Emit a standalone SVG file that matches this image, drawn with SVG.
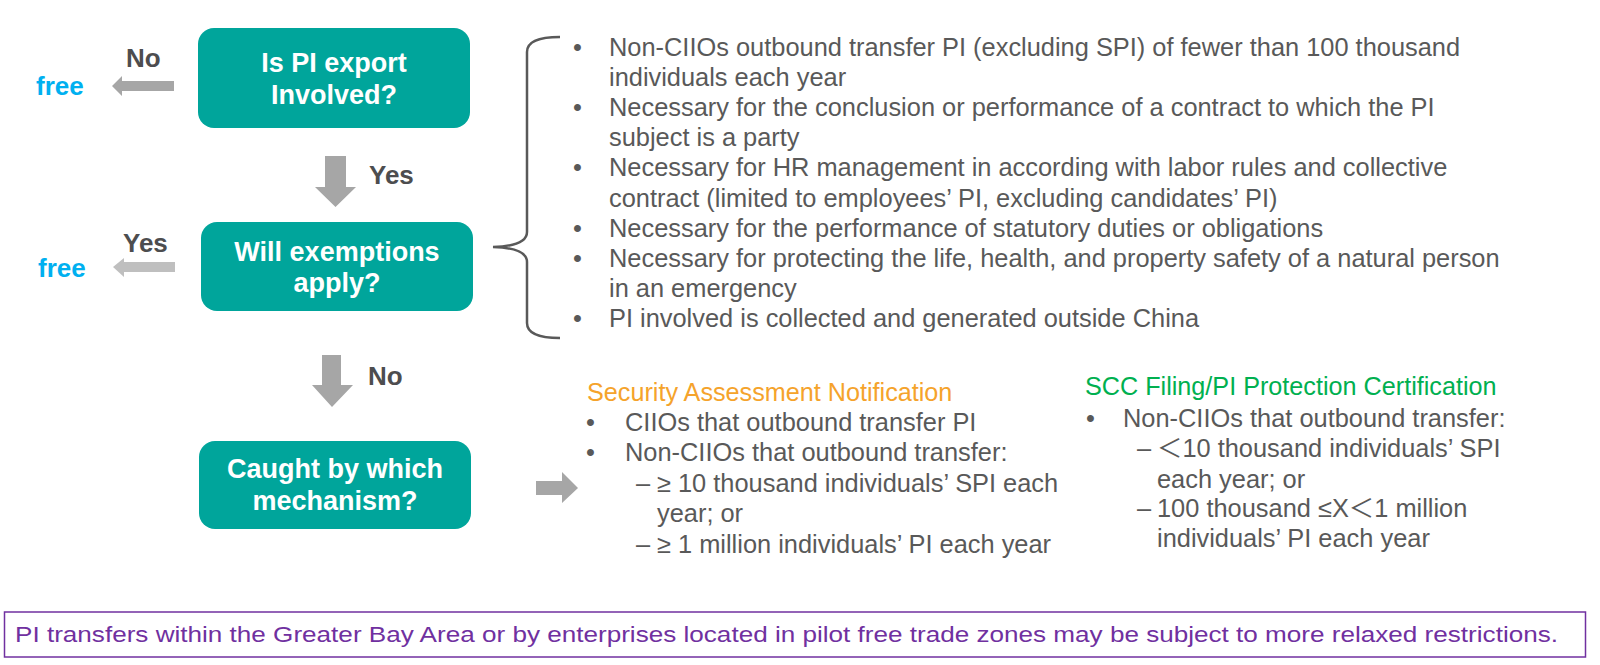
<svg xmlns="http://www.w3.org/2000/svg" width="1600" height="665" viewBox="0 0 1600 665">
<style>
.box{fill:#00A59B}
.bt{font-family:"Liberation Sans",Arial,sans-serif;font-weight:bold;font-size:27px;fill:#FFFFFF;text-anchor:middle}
.lbl{font-family:"Liberation Sans",Arial,sans-serif;font-weight:bold;font-size:26px;fill:#4D4D4F}
.free{font-family:"Liberation Sans",Arial,sans-serif;font-weight:bold;font-size:26px;fill:#00B0F0}
.t{font-family:"Liberation Sans",Arial,"Noto Sans CJK SC",sans-serif;font-size:25.4px;fill:#595959}
.org{font-family:"Liberation Sans",Arial,sans-serif;font-size:25.2px;fill:#F5A32B}
.grn{font-family:"Liberation Sans",Arial,sans-serif;font-size:25.2px;fill:#00B050}
.note{font-family:"Liberation Sans",Arial,sans-serif;font-size:22.5px;fill:#7030A0}
.arr{fill:#A6A6A6}
.arr2{fill:#BFBFBF}
</style>
<rect width="1600" height="665" fill="#FFFFFF"/>
<g id="node-pi-export">
<rect class="box" x="198" y="28" width="272" height="100" rx="16"/>
<text class="bt" x="334" y="72">Is PI export</text>
<text class="bt" x="334" y="104">Involved?</text>
</g>
<g id="node-exemptions">
<rect class="box" x="201" y="222" width="272" height="89" rx="16"/>
<text class="bt" x="337" y="261">Will exemptions</text>
<text class="bt" x="337" y="292">apply?</text>
</g>
<g id="node-mechanism">
<rect class="box" x="199" y="441" width="272" height="88" rx="16"/>
<text class="bt" x="335" y="478">Caught by which</text>
<text class="bt" x="335" y="510">mechanism?</text>
</g>
<g id="free-1">
<text class="free" x="36" y="95">free</text>
</g>
<g id="free-2">
<text class="free" x="38" y="277">free</text>
</g>
<g id="connectors">
<polygon class="arr" points="174,81 122,81 122,76 112,86 122,96 122,91 174,91"/>
<text class="lbl" x="126" y="67">No</text>
<polygon class="arr2" points="175,262 124,262 124,258 113,267 124,277 124,272 175,272"/>
<text class="lbl" x="123" y="252">Yes</text>
<polygon class="arr" points="325,156 346,156 346,187 356,187 335.5,207 315,187 325,187"/>
<text class="lbl" x="369" y="184">Yes</text>
<polygon class="arr" points="322,355 341,355 341,385 353,385 332,407 312,385 322,385"/>
<text class="lbl" x="368" y="385">No</text>
<polygon class="arr" points="536,481 562,481 562,472 578,488 562,503 562,495 536,495"/>
<path d="M560,37 Q527,37 527,52 L527,232 Q527,246 493,247 Q527,248 527,262 L527,323 Q527,338 560,338" fill="none" stroke="#595959" stroke-width="2.5"/>
</g>
<g id="exemption-list">
<text class="t" x="573" y="56">•</text>
<text class="t" x="609" y="56">Non-CIIOs outbound transfer PI (excluding SPI) of fewer than 100 thousand</text>
<text class="t" x="609" y="86">individuals each year</text>
<text class="t" x="573" y="116">•</text>
<text class="t" x="609" y="116">Necessary for the conclusion or performance of a contract to which the PI</text>
<text class="t" x="609" y="146">subject is a party</text>
<text class="t" x="573" y="176">•</text>
<text class="t" x="609" y="176">Necessary for HR management in according with labor rules and collective</text>
<text class="t" x="609" y="207">contract (limited to employees’ PI, excluding candidates’ PI)</text>
<text class="t" x="573" y="237">•</text>
<text class="t" x="609" y="237">Necessary for the performance of statutory duties or obligations</text>
<text class="t" x="573" y="267">•</text>
<text class="t" x="609" y="267">Necessary for protecting the life, health, and property safety of a natural person</text>
<text class="t" x="609" y="297">in an emergency</text>
<text class="t" x="573" y="327">•</text>
<text class="t" x="609" y="327">PI involved is collected and generated outside China</text>
</g>
<g id="security-assessment">
<text class="org" x="587" y="401">Security Assessment Notification</text>
<text class="t" x="586" y="431">•</text>
<text class="t" x="625" y="431">CIIOs that outbound transfer PI</text>
<text class="t" x="586" y="461">•</text>
<text class="t" x="625" y="461">Non-CIIOs that outbound transfer:</text>
<text class="t" x="636" y="492">–</text>
<text class="t" x="657" y="492">≥ 10 thousand individuals’ SPI each</text>
<text class="t" x="657" y="522">year; or</text>
<text class="t" x="636" y="553">–</text>
<text class="t" x="657" y="553">≥ 1 million individuals’ PI each year</text>
</g>
<g id="scc-filing">
<text class="grn" x="1085" y="395">SCC Filing/PI Protection Certification</text>
<text class="t" x="1086" y="427">•</text>
<text class="t" x="1123" y="427">Non-CIIOs that outbound transfer:</text>
<text class="t" x="1137" y="457">–</text>
<text class="t" x="1157" y="457">＜10 thousand individuals’ SPI</text>
<text class="t" x="1157" y="488">each year; or</text>
<text class="t" x="1137" y="517">–</text>
<text class="t" x="1157" y="517">100 thousand ≤X＜1 million</text>
<text class="t" x="1157" y="547">individuals’ PI each year</text>
</g>
<g id="note">
<rect x="4.5" y="612" width="1581" height="45" fill="none" stroke="#7030A0" stroke-width="1.5"/>
<text class="note" x="15" y="642" textLength="1543" lengthAdjust="spacingAndGlyphs">PI transfers within the Greater Bay Area or by enterprises located in pilot free trade zones may be subject to more relaxed restrictions.</text>
</g>
</svg>
